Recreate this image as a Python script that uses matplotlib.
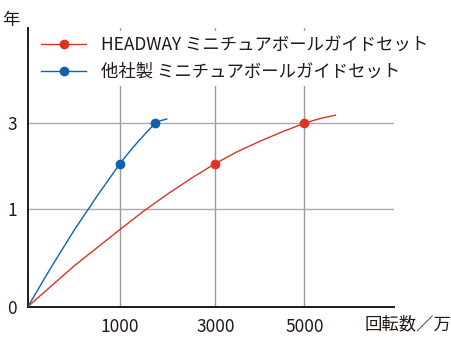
import numpy as np
import matplotlib
matplotlib.use("Agg")
import matplotlib.pyplot as plt
from matplotlib.lines import Line2D

plt.rcParams['font.family'] = ['Noto Sans CJK JP', 'DejaVu Sans']

# ---- data ----
x_ticks = [1000, 3000, 5000]
x_tick_labels = ["1000", "3000", "5000"]
y_ticks = [0, 1, 3]
y_tick_labels = ["0", "1", "3"]

headway_label = "HEADWAY ミニチュアボールガイドセット"
headway_x = [0, 500, 1000, 1500, 2000, 2500, 3000, 3500, 4000, 4500, 5000, 5350, 5700]
headway_y = [0, 0.415, 0.79, 0.98, 1.35, 1.72, 2.06, 2.34, 2.58, 2.80, 3.00, 3.11, 3.19]
headway_mx = [3000, 5000]
headway_my = [2.06, 3.00]

other_label = "他社製 ミニチュアボールガイドセット"
other_x = [0, 250, 500, 750, 1000, 1250, 1500, 1735, 1850, 1980]
other_y = [0, 0.40, 0.78, 1.30, 2.06, 2.41, 2.72, 3.00, 3.06, 3.10]
other_mx = [1000, 1735]
other_my = [2.06, 3.00]

x_label = "回転数／万"
y_label = "年"

# ---- non-linear axis scales (piecewise) ----
XA = np.array([-20000, 0, 1000, 3000, 5000, 30000], float)
XP = np.array([-20000 * 0.092, 0, 92, 187.3, 276.3, 276.3 + 25000 * 0.0445])
YA = np.array([-20, 0, 1, 3, 40], float)
YP = np.array([-20 * 97.5, 0, 97.5, 183.2, 183.2 + 37 * 42.85])

def xf(v):
    return np.interp(v, XA, XP)
def xi(v):
    return np.interp(v, XP, XA)
def yf(v):
    return np.interp(v, YA, YP)
def yi(v):
    return np.interp(v, YP, YA)

W, H = 452, 350
fig = plt.figure(figsize=(W / 100, H / 100), dpi=100)
ax = fig.add_axes([28 / W, (H - 306.5) / H, (394 - 28) / W, (306.5 - 28) / H])
ax.set_xscale('function', functions=(xf, xi))
ax.set_yscale('function', functions=(yf, yi))
ax.set_xlim(0, xi(394 - 28))
ax.set_ylim(0, yi(306.5 - 28))

red = '#dc3324'
blue = '#125fae'
txt = '#231815'

ax.plot(headway_x, headway_y, color=red, lw=1.0, zorder=3)
ax.plot(headway_mx, headway_my, 'o', color=red, ms=6, zorder=4)
ax.plot(other_x, other_y, color=blue, lw=1.0, zorder=3)
ax.plot(other_mx, other_my, 'o', color=blue, ms=6, zorder=4)

ax.set_xticks(x_ticks)
ax.set_xticklabels(x_tick_labels)
ax.set_yticks(y_ticks)
ax.set_yticklabels(y_tick_labels)
ax.tick_params(length=0, labelsize=12.5, colors=txt, pad=8)
ax.tick_params(axis='x', pad=8)

for v in x_ticks:
    ax.axvline(v, color='#999999', lw=1.0, zorder=1)
for v in y_ticks[1:]:
    ax.axhline(v, color='#aaaaaa', lw=1.0, zorder=1)

for s in ['top', 'right']:
    ax.spines[s].set_visible(False)
for s in ['left', 'bottom']:
    ax.spines[s].set_color(txt)
    ax.spines[s].set_linewidth(1.4)

fig.text(2 / W, 1 - 20 / H, y_label, fontsize=12.5, color=txt, va='center', ha='left')
fig.text(451 / W, 1 - 324 / H, x_label, fontsize=12.5, color=txt, va='center', ha='right')

handles = [Line2D([], [], color=red, lw=1.0, marker='o', ms=6),
           Line2D([], [], color=blue, lw=1.0, marker='o', ms=6)]
leg = ax.legend(handles, [headway_label, other_label], loc='upper left',
                bbox_to_anchor=(36 / W, 1 - 31 / H), bbox_transform=fig.transFigure,
                frameon=True, facecolor='white', edgecolor='none', framealpha=1,
                fontsize=12.5, handlelength=2.6, handletextpad=0.85, labelspacing=0.5,
                borderpad=0.3, borderaxespad=0, fancybox=False)
for t in leg.get_texts():
    t.set_color(txt)
leg.set_zorder(5)

fig.savefig('out.png', dpi=100)
